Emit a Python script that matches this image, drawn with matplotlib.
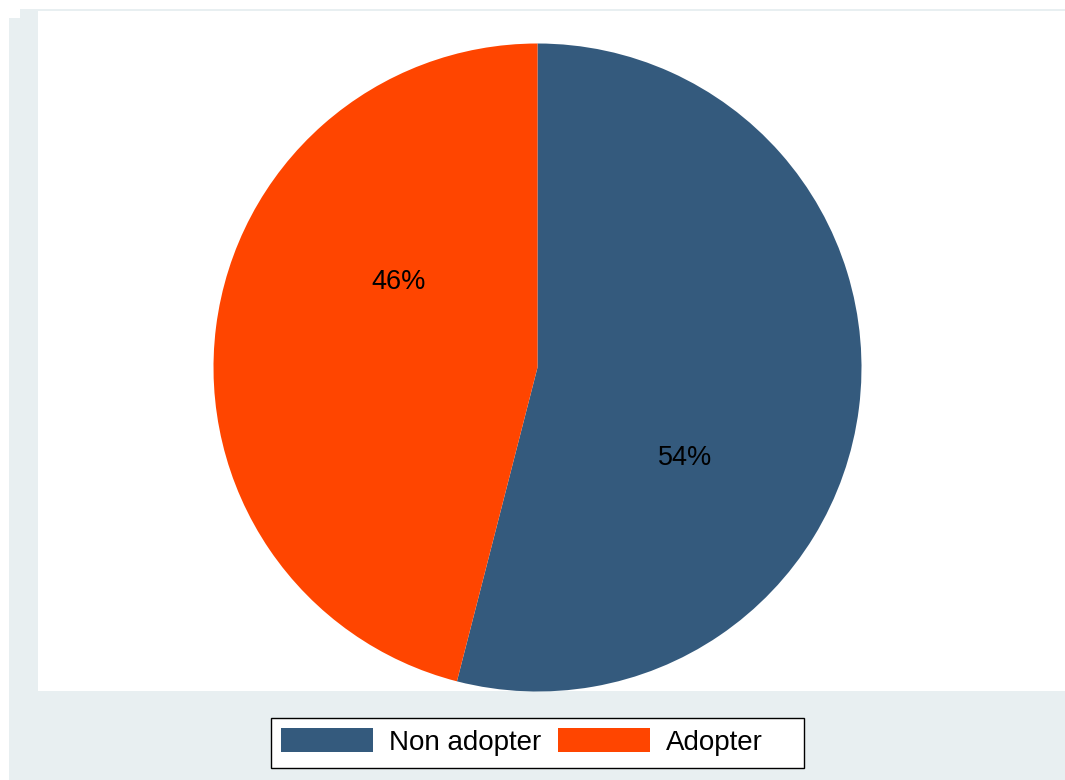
import numpy as np
import matplotlib
matplotlib.use("Agg")
import matplotlib.pyplot as plt
from matplotlib.patches import Rectangle

plt.rcParams["font.family"] = ["Liberation Sans", "DejaVu Sans"]

# Share of respondents by adoption status
categories = ["Non adopter", "Adopter"]
shares = [54, 46]
colors = ["#345a7d", "#ff4500"]

W, H = 1065, 780
fig = plt.figure(figsize=(W / 100, H / 100), dpi=100)
fig.patch.set_facecolor("white")


def px_rect(x0, y0, x1, y1, face, edge="none", lw=0, z=0):
    """Add a rectangle given in pixel coordinates (origin at top-left)."""
    fig.patches.append(Rectangle((x0 / W, 1 - y1 / H), (x1 - x0) / W, (y1 - y0) / H,
                                 transform=fig.transFigure, facecolor=face,
                                 edgecolor=edge, linewidth=lw, zorder=z))


bg = "#e8eff1"
px_rect(20, 9, W, H, bg)
px_rect(9, 18, W, H, bg)
px_rect(38, 11, W, 691, "white")
# legend box
px_rect(271, 718, 804, 768, "white", edge="black", lw=1.0)

# Pie axes: square box of 2 data units mapped to the pie diameter
cx, cy, r = 537.5, 367.5, 324
ax = fig.add_axes([(cx - r) / W, 1 - (cy + r) / H, 2 * r / W, 2 * r / H])
ax.set_zorder(2)

wedges, texts, autotexts = ax.pie(
    shares, colors=colors, startangle=90, counterclock=False, radius=1,
    autopct=lambda p: f"{p:.0f}%", pctdistance=0.52,
    wedgeprops=dict(linewidth=0), textprops=dict(fontsize=19.5, color="black"),
)
ax.set_xlim(-1, 1)
ax.set_ylim(-1, 1)
ax.axis("off")

# Place the percentage labels a little further clockwise than the slice midpoint
start = 90.0
total = float(sum(shares))
for share, t, dist in zip(shares, autotexts, [0.534, 0.505]):
    span = 360.0 * share / total
    mid = start - span / 2 - 24.5
    t.set_position((dist * np.cos(np.radians(mid)), dist * np.sin(np.radians(mid))))
    t.set_ha("center")
    t.set_va("center")
    start -= span

leg = fig.legend(
    wedges, categories, loc="center left", bbox_to_anchor=(281 / W, 1 - 742 / H),
    ncol=2, fontsize=20, frameon=False,
    handlelength=3.3, handleheight=0.95, handletextpad=0.58, columnspacing=0.62,
    borderpad=0, borderaxespad=0,
)
leg.set_zorder(3)

fig.savefig("out.png", dpi=100, facecolor=fig.get_facecolor())
